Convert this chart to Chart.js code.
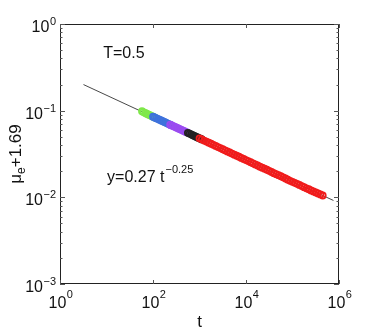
<!DOCTYPE html>
<html>
<head>
<meta charset="utf-8">
<script src="https://cdn.jsdelivr.net/npm/chart.js@4.4.1/dist/chart.umd.min.js"></script>
<style>
  html, body { margin: 0; padding: 0; background: #ffffff; }
  #wrap { width: 374px; height: 332px; position: relative; }
</style>
</head>
<body>
<div id="wrap"><canvas id="c" width="374" height="332"></canvas></div>
<script>
// ---- data ----
const xTickValues = [1, 100, 10000, 1000000];
const xTickExps = ["0", "2", "4", "6"];
const yTickValues = [1, 0.1, 0.01, 0.001];
const yTickExps = ["0", "\u22121", "\u22122", "\u22123"];

const greenT = [58, 62, 68, 73, 79, 86, 93, 101, 110];
const greenY = [0.0985, 0.0962, 0.0940, 0.0921, 0.0903, 0.0885, 0.0868, 0.0850, 0.0833];

const blueT = [100, 108, 117, 127, 138, 150, 162, 176, 191, 207, 224, 234];
const blueY = [0.0853, 0.0836, 0.0819, 0.0803, 0.0786, 0.0770, 0.0755, 0.0740, 0.0725, 0.0710, 0.0696, 0.0690];

const purpleT = [234, 254, 275, 299, 324, 351, 380, 412, 447, 484, 525, 575];
const purpleY = [0.0690, 0.0676, 0.0663, 0.0650, 0.0637, 0.0624, 0.0611, 0.0599, 0.0587, 0.0575, 0.0564, 0.0551];

const blackT = [562, 610, 661, 716, 776, 841, 912, 989, 1072, 1122];
const blackY = [0.0555, 0.0544, 0.0533, 0.0522, 0.0511, 0.0500, 0.0490, 0.0481, 0.0471, 0.0466];

const redT = [1000, 1122, 1259, 1413, 1585, 1778, 1995, 2239, 2512, 2818,
              3162, 3548, 3981, 4467, 5012, 5623, 6310, 7079, 7943, 8913,
              10000, 11220, 12589, 14125, 15849, 17783, 19953, 22387, 25119, 28184,
              31623, 35481, 39811, 44668, 50119, 56234, 63096, 70795, 79433, 89125,
              100000, 112202, 125893, 141254, 158489, 177828, 199526, 223872, 251189, 281838,
              316228, 354813, 398107, 446684];
const redY = [0.0480, 0.0467, 0.0452, 0.0440, 0.0427, 0.0415, 0.0403, 0.0392, 0.0380, 0.0370,
              0.0359, 0.0349, 0.0339, 0.0329, 0.0320, 0.0311, 0.0302, 0.0294, 0.0285, 0.0277,
              0.0269, 0.0262, 0.0254, 0.0247, 0.0240, 0.0233, 0.0226, 0.0220, 0.0214, 0.0208,
              0.0202, 0.0196, 0.0190, 0.0185, 0.0180, 0.0175, 0.0170, 0.0165, 0.0160, 0.0155,
              0.0151, 0.0147, 0.0143, 0.0139, 0.0135, 0.0131, 0.0127, 0.0124, 0.0120, 0.0117,
              0.0114, 0.0111, 0.0108, 0.0105];

const fitT = [3.2, 760000];
const fitY = [0.200, 0.0092];

const xTitle = "t";
const annotT = "T=0.5";
const annotFit = "y=0.27 t";
const annotFitExp = "\u22120.25";

// ---- helpers ----
function pts(xs, ys) { return xs.map((x, i) => ({ x: x, y: ys[i] })); }
const FONT = '"Liberation Sans", Arial, Helvetica, sans-serif';

function markerSet(label, xs, ys, color) {
  return {
    label: label, data: pts(xs, ys), showLine: false,
    pointStyle: 'circle', pointRadius: 3, pointBorderWidth: 1.8,
    pointBorderColor: color, pointBackgroundColor: 'rgba(0,0,0,0)',
    borderColor: color, backgroundColor: 'rgba(0,0,0,0)'
  };
}

const decor = {
  id: 'decor',
  afterDraw(chart) {
    const ctx = chart.ctx, a = chart.chartArea;
    const xs = chart.scales.x, ys = chart.scales.y;
    ctx.save();
    // box
    ctx.strokeStyle = '#222';
    ctx.lineWidth = 1;
    ctx.strokeRect(Math.round(a.left) + 0.5, Math.round(a.top) + 0.5,
                   Math.round(a.right - a.left) - 1, Math.round(a.bottom - a.top) - 1);
    // x ticks (inward, bottom and top)
    ctx.strokeStyle = '#555';
    ctx.beginPath();
    xTickValues.forEach(v => {
      const px = Math.round(xs.getPixelForValue(v)) + 0.5;
      ctx.moveTo(px, a.bottom); ctx.lineTo(px, a.bottom - 4);
      ctx.moveTo(px, a.top); ctx.lineTo(px, a.top + 4);
    });
    // y ticks major + minor
    for (let d = -3; d <= 0; d++) {
      for (let m = 1; m <= 9; m++) {
        const v = m * Math.pow(10, d);
        if (v > 1.0000001) continue;
        const py = Math.round(ys.getPixelForValue(v)) + 0.5;
        const len = (m === 1) ? 5 : 2.5;
        ctx.moveTo(a.left, py); ctx.lineTo(a.left + len, py);
        ctx.moveTo(a.right, py); ctx.lineTo(a.right - len, py);
      }
    }
    ctx.stroke();

    ctx.fillStyle = '#111';
    ctx.textBaseline = 'alphabetic';
    // x tick labels
    xTickValues.forEach((v, i) => {
      const px = xs.getPixelForValue(v);
      ctx.font = '16px ' + FONT;
      const w1 = ctx.measureText('10').width;
      ctx.font = '11px ' + FONT;
      const w2 = ctx.measureText(xTickExps[i]).width;
      const left = px - (w1 + w2) / 2 + 0.5;
      ctx.font = '16px ' + FONT;
      ctx.textAlign = 'left';
      ctx.fillText('10', left, a.bottom + 24);
      ctx.font = '11px ' + FONT;
      ctx.fillText(xTickExps[i], left + w1 + 0.5, a.bottom + 14);
    });
    // y tick labels
    yTickValues.forEach((v, i) => {
      const py = ys.getPixelForValue(v);
      ctx.font = '11px ' + FONT;
      const w2 = ctx.measureText(yTickExps[i]).width;
      ctx.textAlign = 'left';
      ctx.font = '16px ' + FONT;
      const w1 = ctx.measureText('10').width;
      const right = a.left - 4;
      const left = right - w1 - w2 - 0.5;
      ctx.fillText('10', left, py + 8);
      ctx.font = '11px ' + FONT;
      ctx.fillText(yTickExps[i], left + w1 + 0.5, py + 1);
    });
    // x title
    ctx.font = '17px ' + FONT;
    ctx.textAlign = 'center';
    ctx.fillText(xTitle, (a.left + a.right) / 2, a.bottom + 43);
    // y title (rotated): mu_e+1.69
    ctx.save();
    ctx.translate(21, (a.top + a.bottom) / 2);
    ctx.rotate(-Math.PI / 2);
    ctx.font = '17px ' + FONT;
    const wMu = ctx.measureText('\u03bc').width;
    const wRest = ctx.measureText('+1.69').width;
    ctx.font = '12px ' + FONT;
    const wE = ctx.measureText('e').width;
    let sx = -(wMu + wE + wRest) / 2;
    ctx.textAlign = 'left';
    ctx.font = '17px ' + FONT;
    ctx.fillText('\u03bc', sx, 0);
    ctx.font = '12px ' + FONT;
    ctx.fillText('e', sx + wMu, 4);
    ctx.font = '17px ' + FONT;
    ctx.fillText('+1.69', sx + wMu + wE, 0);
    ctx.restore();

    // annotations placed at data coordinates
    ctx.textAlign = 'left';
    ctx.font = '16px ' + FONT;
    ctx.fillText(annotT, xs.getPixelForValue(8.5), ys.getPixelForValue(0.40));
    const fx = xs.getPixelForValue(10.3), fy = ys.getPixelForValue(0.0152);
    ctx.fillText(annotFit, fx, fy);
    const wf = ctx.measureText(annotFit).width;
    ctx.font = '11px ' + FONT;
    ctx.fillText(annotFitExp, fx + wf + 1, fy - 9);
    ctx.restore();
  }
};

new Chart(document.getElementById('c'), {
  type: 'scatter',
  data: {
    datasets: [
      markerSet('red', redT, redY, '#f01c1c'),
      markerSet('black', blackT, blackY, '#222222'),
      markerSet('purple', purpleT, purpleY, '#9b4cf0'),
      markerSet('blue', blueT, blueY, '#3f72dc'),
      markerSet('green', greenT, greenY, '#7fe84a'),
      {
        label: 'fit', data: pts(fitT, fitY), showLine: true,
        borderColor: '#333333', borderWidth: 0.9, pointRadius: 0, fill: false
      }
    ]
  },
  options: {
    responsive: false,
    animation: false,
    events: [],
    layout: { padding: { left: 0, right: 35, top: 24, bottom: 0 } },
    plugins: { legend: { display: false }, tooltip: { enabled: false } },
    scales: {
      x: {
        type: 'logarithmic', min: 1, max: 1000000,
        grid: { display: false }, border: { display: false },
        ticks: { display: false },
        afterFit: s => { s.height = 48; }
      },
      y: {
        type: 'logarithmic', min: 0.001, max: 1,
        grid: { display: false }, border: { display: false },
        ticks: { display: false },
        afterFit: s => { s.width = 60; }
      }
    }
  },
  plugins: [decor]
});
</script>
</body>
</html>
